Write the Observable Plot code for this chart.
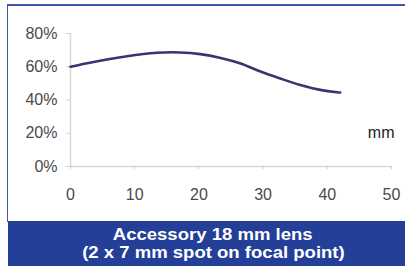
<!DOCTYPE html>
<html>
<head>
<meta charset="utf-8">
<script src="https://cdn.jsdelivr.net/npm/d3@7"></script>
<script src="https://cdn.jsdelivr.net/npm/@observablehq/plot@0.6"></script>
<style>
  html, body { margin: 0; padding: 0; background: #fff; overflow: hidden; }
  body { width: 405px; height: 266px; position: relative; font-family: "Liberation Sans", Arial, sans-serif; }
  #frame { position: absolute; left: 7px; top: 4px; width: 420px; height: 215px;
           border-top: 2px solid #3e58a8; border-left: 1px solid #3e58a8; border-bottom: 1px solid #3e58a8; }
  #chart { position: absolute; left: 0; top: 0; }
  #caption { position: absolute; left: 8px; top: 221px; width: 410px; height: 45px;
             background: #233f98; color: #fff; font-weight: bold; font-size: 17px;
             line-height: 18px; text-align: center; padding-top: 5px; box-sizing: border-box; }
  #caption span { display: inline-block; transform: scaleX(1.09); transform-origin: center; }
</style>
</head>
<body>
<div id="frame"></div>
<div id="chart"></div>
<div id="caption"><span>Accessory 18 mm lens</span><br><span>(2 x 7 mm spot on focal point)</span></div>
<script>
const distanceMm = [0, 3.6, 8.8, 13.5, 17, 20.2, 23.4, 26.5, 29.6, 32.7, 35.8, 38.9, 41.5, 42];
const efficiencyPct = [60, 62.9, 66.3, 68.4, 68.6, 67.6, 65.3, 61.9, 57.1, 52.9, 49.0, 46.1, 44.7, 44.5];
const xTicks = [0, 10, 20, 30, 40, 50];
const yTicks = [0, 20, 40, 60, 80];
const unitLabel = "mm";

const data = distanceMm.map((d, i) => ({x: d, y: efficiencyPct[i]}));

const chart = Plot.plot({
  width: 405,
  height: 220,
  marginLeft: 70,
  marginRight: 14,
  marginTop: 33,
  marginBottom: 54,
  style: {fontFamily: "'Liberation Sans', Arial, sans-serif", fontSize: "16px", background: "transparent", color: "#444"},
  x: {domain: [0, 50]},
  y: {domain: [0, 80]},
  marks: [
    Plot.ruleY([0], {stroke: "#d8d8d8", strokeWidth: 1.5}),
    Plot.ruleX([0], {stroke: "#d8d8d8", strokeWidth: 1.5}),
    Plot.axisY({ticks: yTicks, tickSize: 4, tickPadding: 9, tickFormat: d => d + "%", stroke: "#d0d0d0", fill: "#4a4a4a", label: null}),
    Plot.axisX({ticks: xTicks, tickSize: 3, tickPadding: 19, stroke: "#d0d0d0", fill: "#4a4a4a", label: null}),
    Plot.line(data, {x: "x", y: "y", curve: "natural", stroke: "#3f3272", strokeWidth: 2.6}),
    Plot.text([unitLabel], {frameAnchor: "right", text: d => d, textAnchor: "end", dx: 3, dy: 33, fill: "#222", fontSize: 16})
  ]
});
document.getElementById("chart").appendChild(chart);
</script>
</body>
</html>
